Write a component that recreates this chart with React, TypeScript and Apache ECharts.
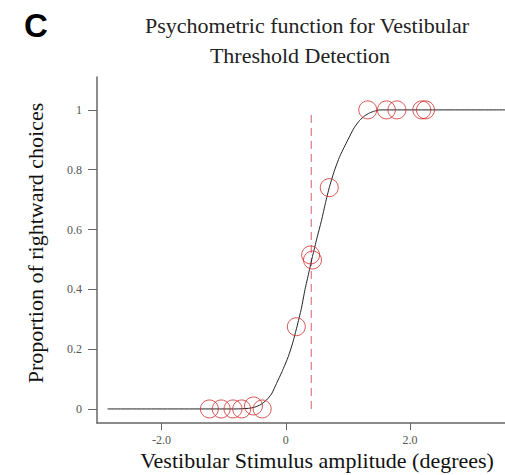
import React, { useEffect, useRef } from "react";
import * as echarts from "echarts";

// Observed proportions of rightward choices (x = stimulus amplitude, y = proportion)
const lowX = [-1.23, -1.04, -0.85, -0.71, -0.52, -0.38];
const lowY = [0, 0, 0, 0, 0.01, 0];
const midX = [0.17, 0.4, 0.43, 0.7];
const midY = [0.275, 0.515, 0.498, 0.74];
const highX = [1.32, 1.62, 1.79, 2.19, 2.25];
const highY = [1, 1, 1, 1, 1];

// Fitted psychometric curve
const curveX = [-2.87, -0.8, -0.6, -0.5, -0.4, -0.31, -0.23, -0.15, -0.06, 0.04, 0.11, 0.18, 0.25, 0.31, 0.37, 0.43, 0.5, 0.575, 0.64, 0.7, 0.78, 0.87, 0.94, 1.0, 1.1, 1.19, 1.27, 1.35, 1.43, 1.52, 3.6];
const curveY = [0, 0, 0.002, 0.006, 0.015, 0.03, 0.05, 0.085, 0.125, 0.175, 0.22, 0.275, 0.335, 0.4, 0.455, 0.51, 0.57, 0.63, 0.69, 0.74, 0.795, 0.845, 0.875, 0.9, 0.94, 0.965, 0.98, 0.99, 0.996, 1.0, 1.0];

// Threshold marker
const thresholdX = [0.41, 0.41];
const thresholdY = [0, 1];

const xTicks = [-2, 0, 2];
const xTickLabels = ["-2.0", "0", "2.0"];
const yTicks = [0, 0.2, 0.4, 0.6, 0.8, 1];
const yTickLabels = ["0", "0.2", "0.4", "0.6", "0.8", "1"];

const titleLines = ["Psychometric function for Vestibular", "Threshold Detection"];
const xName = "Vestibular Stimulus amplitude (degrees)";
const yName = "Proportion of rightward choices";
const panelLetter = "C";

const SERIF = "'Liberation Serif', 'Times New Roman', serif";

export default function App() {
  const ref = useRef<HTMLDivElement>(null);
  useEffect(() => {
    if (!ref.current) return;
    const chart = echarts.init(ref.current, undefined, { renderer: "svg" });
    const pts = [...lowX.map((x, i) => [x, lowY[i]]), ...midX.map((x, i) => [x, midY[i]]), ...highX.map((x, i) => [x, highY[i]])];
    const curve = curveX.map((x, i) => [x, curveY[i]]);
    const thr = thresholdX.map((x, i) => [x, thresholdY[i]]);
    chart.setOption({
      animation: false,
      backgroundColor: "#ffffff",
      grid: { left: 97, right: 0, top: 77, bottom: 52 },
      xAxis: {
        type: "value",
        min: -3.04,
        max: 3.53,
        splitLine: { show: false },
        axisLine: { show: true, onZero: false, lineStyle: { color: "#666", width: 1.5 } },
        axisTick: { show: true, length: 7, customValues: xTicks, lineStyle: { color: "#666" } },
        axisLabel: {
          customValues: xTicks,
          margin: 11,
          fontFamily: SERIF,
          fontSize: 12,
          color: "#555",
          formatter: (v: number) => xTickLabels[xTicks.indexOf(v)] ?? String(v),
        },
      },
      yAxis: {
        type: "value",
        min: -0.047,
        max: 1.11,
        splitLine: { show: false },
        axisLine: { show: true, onZero: false, lineStyle: { color: "#666", width: 1.5 } },
        axisTick: { show: true, length: 9, customValues: yTicks, lineStyle: { color: "#666" } },
        axisLabel: {
          customValues: yTicks,
          margin: 15,
          fontFamily: SERIF,
          fontSize: 12,
          color: "#555",
          formatter: (v: number) => {
            const i = yTicks.findIndex((t) => Math.abs(t - v) < 1e-9);
            return i >= 0 ? yTickLabels[i] : String(v);
          },
        },
      },
      series: [
        {
          type: "line",
          data: thr,
          showSymbol: false,
          silent: true,
          lineStyle: { color: "#d4606e", width: 1, type: [8, 5] },
          z: 1,
        },
        {
          type: "line",
          data: curve,
          showSymbol: false,
          smooth: 0.2,
          lineStyle: { color: "#222", width: 1 },
          z: 2,
        },
        {
          type: "scatter",
          data: pts,
          symbol: "circle",
          symbolSize: 18,
          itemStyle: { color: "rgba(0,0,0,0)", borderColor: "#d02a2a", borderWidth: 1 },
          z: 3,
        },
      ],
      graphic: [
        {
          type: "text",
          x: 36,
          y: 25,
          style: { text: panelLetter, fontFamily: "'Liberation Sans', Arial, sans-serif", fontWeight: "bold", fontSize: 33, fill: "#000", textAlign: "center", textVerticalAlign: "middle" },
        },
        {
          type: "text",
          x: 307,
          y: 25,
          style: { text: titleLines[0], fontFamily: SERIF, fontSize: 22, fill: "#222", textAlign: "center", textVerticalAlign: "middle" },
        },
        {
          type: "text",
          x: 300,
          y: 55,
          style: { text: titleLines[1], fontFamily: SERIF, fontSize: 22, fill: "#222", textAlign: "center", textVerticalAlign: "middle" },
        },
        {
          type: "text",
          x: 317,
          y: 460,
          style: { text: xName, fontFamily: SERIF, fontSize: 22, fill: "#111", textAlign: "center", textVerticalAlign: "middle" },
        },
        {
          type: "text",
          x: 35,
          y: 243,
          rotation: Math.PI / 2,
          style: { text: yName, fontFamily: SERIF, fontSize: 22, fill: "#111", textAlign: "center", textVerticalAlign: "middle" },
        },
      ],
    });
    return () => chart.dispose();
  }, []);
  return <div ref={ref} style={{ position: "absolute", left: 0, top: 0, width: 505, height: 475 }} />;
}
